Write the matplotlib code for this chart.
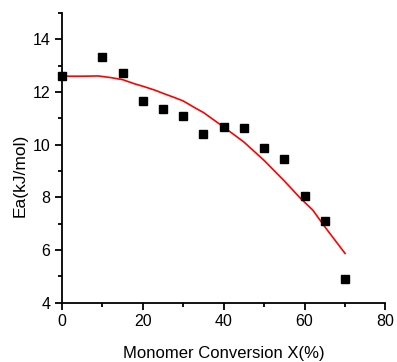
import matplotlib
matplotlib.use("Agg")
import matplotlib.pyplot as plt
from matplotlib.ticker import MultipleLocator

# measured points
conv = [0, 10, 15, 20, 25, 30, 35, 40, 45, 50, 55, 60, 65, 70]
ea = [12.59, 13.33, 12.74, 11.65, 11.37, 11.09, 10.41, 10.66, 10.65, 9.87, 9.44, 8.05, 7.10, 4.91]

# fitted curve
fit_x = [0, 5, 9, 12, 15, 18, 20, 23, 25, 28, 30, 33, 35, 40, 45, 50, 55, 59, 62, 65, 70]
fit_y = [12.6, 12.6, 12.61, 12.55, 12.47, 12.31, 12.22, 12.07, 11.95, 11.78, 11.66, 11.39, 11.22,
         10.67, 10.1, 9.4, 8.62, 7.96, 7.52, 6.88, 5.87]

plt.rcParams['font.family'] = ['Liberation Sans', 'DejaVu Sans']

fig = plt.figure(figsize=(3.97, 3.62), dpi=100)
ax = fig.add_axes([0.156, 0.164, 0.815, 0.80])

ax.plot(fit_x, fit_y, color='red', lw=1.2)
ax.plot(conv, ea, 's', color='black', ms=5.5, clip_on=False)

ax.set_xlim(0, 80)
ax.set_ylim(4, 15)
ax.set_yticks([4, 6, 8, 10, 12, 14])
ax.xaxis.set_major_locator(MultipleLocator(20))
ax.xaxis.set_minor_locator(MultipleLocator(10))
ax.yaxis.set_minor_locator(MultipleLocator(1))

for s in ['top', 'right']:
    ax.spines[s].set_visible(False)
for s in ['left', 'bottom']:
    ax.spines[s].set_linewidth(1.3)

ax.tick_params(which='major', direction='out', length=5, width=1.3, labelsize=11.5)
ax.tick_params(which='minor', direction='out', length=3, width=1.3)

ax.set_xlabel('Monomer Conversion X(%)', fontsize=12, labelpad=12)
ax.set_ylabel('Ea(kJ/mol)', fontsize=12.5)
ax.yaxis.set_label_coords(-0.105, 0.44)

fig.savefig('out.png', dpi=100)
